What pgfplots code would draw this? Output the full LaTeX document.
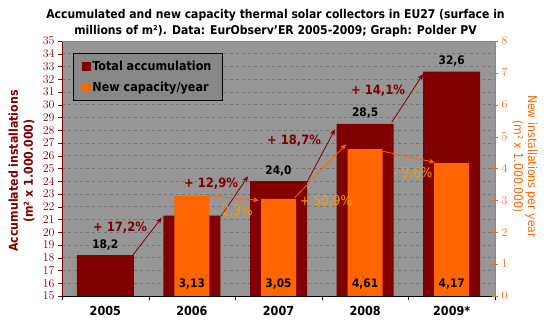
\documentclass[border=0pt]{standalone}
\usepackage{fontspec}
\setmainfont{DejaVu Sans Condensed}
\usepackage{pgfplots}
\usepackage{pgfplotstable}
\pgfplotsset{compat=1.18}
\usetikzlibrary{arrows.meta}
\definecolor{dred}{HTML}{800000}
\definecolor{orng}{HTML}{FF6600}
\definecolor{pctor}{HTML}{FF9900}
\definecolor{plotbg}{HTML}{969696}
\definecolor{gridc}{HTML}{747474}
\definecolor{legbg}{HTML}{878787}
\definecolor{topline}{HTML}{808080}

\pgfplotstableread{
x y lab
0 18.2 18,2
1 21.3 21,3
2 24.0 24,0
3 28.5 28,5
4 32.6 32,6
}\totaltab
\pgfplotstableread{
x y lab
1 3.13 3,13
2 3.05 3,05
3 4.61 4,61
4 4.17 4,17
}\newtab

\begin{document}
\begin{tikzpicture}
\path[use as bounding box] (0,0) rectangle (551bp,321bp);
% title
\node[align=center, font=\bfseries\fontsize{12.1}{16}\selectfont] at (275.5bp,298bp)
 {Accumulated and new capacity thermal solar collectors in EU27 (surface in\\millions of m²). Data: EurObserv'ER 2005-2009; Graph: Polder PV};
% left label
\node[rotate=90, align=center, text=dred, font=\bfseries\fontsize{12.3}{15}\selectfont] at (21.5bp,150bp)
 {Accumulated installations\\(m² x 1.000.000)};
% right label
\node[rotate=-90, align=center, text=orng, font=\fontsize{12.2}{14}\selectfont] at (525bp,154.5bp)
 {New installations per year\\(m² x 1.000.000)};

\begin{axis}[
  at={(62bp,25bp)}, anchor=south west,
  scale only axis, width=433bp, height=255bp,
  xmin=-0.5, xmax=4.5, ymin=15, ymax=35,
  axis x line*=bottom, axis y line*=left,
  x axis line style={black,-}, y axis line style={dred,-},
  axis background/.style={fill=plotbg},
  ytick={15,16,...,35},
  ymajorgrids, grid style={gridc, dash pattern=on 3bp off 3bp, line width=0.6bp},
  yticklabel style={text=dred, font=\bfseries\fontsize{11.5}{11.5}\selectfont},
  y tick style={dred},
  tick align=outside, major tick length=4bp, minor tick length=4bp,
  xtick={0,1,2,3,4},
  xticklabels={2005,2006,2007,2008,2009*},
  major x tick style={draw=none},
  minor xtick={-0.5,0.5,1.5,2.5,3.5,4.5},
  minor x tick style={black},
  xticklabel style={font=\bfseries\fontsize{12.5}{12.5}\selectfont, yshift=-3bp},
  legend style={at={(axis description cs:0.0254,0.953)}, anchor=north west,
    fill=legbg, draw=black, line width=0.6bp,
    font=\bfseries\fontsize{12.5}{12.5}\selectfont,
    inner xsep=9bp, inner ysep=6bp, row sep=7bp,
    nodes={inner sep=1.5bp}},
  legend cell align=left,
]
\addlegendimage{legend image code/.code={\fill[dred] (0bp,-4bp) rectangle (8bp,4bp);}}
\addlegendentry{Total accumulation}
\addlegendimage{legend image code/.code={\fill[orng] (0bp,-4bp) rectangle (8bp,4bp);}}
\addlegendentry{New capacity/year}
\addplot[ybar, bar width=57bp, bar shift=0pt, fill=dred, draw=none, forget plot,
  nodes near coords, point meta=explicit symbolic,
  every node near coord/.append style={font=\bfseries\fontsize{11.8}{11.8}\selectfont, text=black, yshift=2bp}]
  table[x=x, y=y, meta=lab] {\totaltab};
% growth arrows
\addplot[dred, line width=0.8bp, -{Stealth[length=6bp,width=5bp]}, forget plot] coordinates {(0.305,18.09) (0.651,21.14)};
\addplot[dred, line width=0.8bp, -{Stealth[length=6bp,width=5bp]}, forget plot] coordinates {(1.336,21.24) (1.648,24.39)};
\addplot[dred, line width=0.8bp, -{Stealth[length=6bp,width=5bp]}, forget plot] coordinates {(2.326,23.9) (2.652,28.07)};
\addplot[dred, line width=0.8bp, -{Stealth[length=6bp,width=5bp]}, forget plot] coordinates {(3.307,28.62) (3.669,32.4)};
\node[text=dred, font=\bfseries\fontsize{12.9}{12.9}\selectfont] at (axis cs:0.170,20.35) {+ 17,2\%};
\node[text=dred, font=\bfseries\fontsize{12.9}{12.9}\selectfont] at (axis cs:1.221,23.82) {+ 12,9\%};
\node[text=dred, font=\bfseries\fontsize{12.9}{12.9}\selectfont] at (axis cs:2.179,27.2) {+ 18,7\%};
\node[text=dred, font=\bfseries\fontsize{12.9}{12.9}\selectfont] at (axis cs:3.149,31.14) {+ 14,1\%};
\end{axis}

\begin{axis}[
  at={(62bp,25bp)}, anchor=south west,
  scale only axis, width=433bp, height=255bp,
  xmin=-0.5, xmax=4.5, ymin=0, ymax=8,
  axis y line*=right, axis x line*=top,
  x axis line style={topline,-}, y axis line style={orng,-},
  xtick=\empty,
  ytick={0,1,...,8},
  yticklabel style={text=orng, font=\fontsize{12}{12}\selectfont},
  y tick style={orng},
  tick align=center, major tick length=6bp,
]
\addplot[ybar, bar width=35bp, bar shift=0pt, fill=orng, draw=none]
  table[x=x, y=y] {\newtab};
\addplot[draw=none, mark=none, nodes near coords, point meta=explicit symbolic,
  every node near coord/.append style={font=\bfseries\fontsize{11.8}{11.8}\selectfont, text=black, anchor=center}]
  coordinates {(1,0.38)[3,13] (2,0.38)[3,05] (3,0.38)[4,61] (4,0.38)[4,17]};
\addplot[orng, line width=0.8bp, -{Stealth[length=6bp,width=5bp]}] coordinates {(1.197,3.15) (1.775,3.0)};
\addplot[orng, line width=0.8bp, -{Stealth[length=6bp,width=5bp]}] coordinates {(2.19,3.09) (2.78,4.76)};
\addplot[orng, line width=0.8bp, -{Stealth[length=6bp,width=5bp]}] coordinates {(3.207,4.54) (3.807,4.19)};
\node[text=pctor, font=\fontsize{13.5}{13.5}\selectfont] at (axis cs:1.475,2.646) {- 2,3\%};
\node[text=pctor, font=\fontsize{13.5}{13.5}\selectfont] at (axis cs:2.548,2.96) {+ 50,9\%};
\node[text=pctor, font=\fontsize{13.5}{13.5}\selectfont] at (axis cs:3.553,3.84) {- 9,6\%};
\end{axis}
\end{tikzpicture}
\end{document}
